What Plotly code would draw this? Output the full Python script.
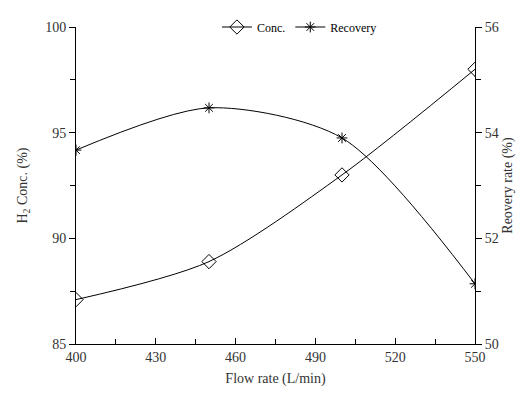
import plotly.graph_objects as go

flow = [400, 450, 500, 550]
conc = [87.1, 88.9, 93.0, 98.0]
recovery = [53.67, 54.47, 53.9, 51.14]
x_ticks = [400, 430, 460, 490, 520, 550]

font = "Liberation Serif, Times New Roman, serif"
fig = go.Figure()
fig.add_trace(go.Scatter(
    x=flow, y=conc, name="Conc.", mode="lines+markers",
    line=dict(color="black", width=1, shape="spline", smoothing=0.8),
    marker=dict(symbol="diamond-open", size=11, color="black", line=dict(width=1)),
))
fig.add_trace(go.Scatter(
    x=flow, y=recovery, name="Recovery", mode="lines+markers", yaxis="y2",
    line=dict(color="black", width=1, shape="spline", smoothing=0.8),
    marker=dict(symbol="asterisk-open", size=9, color="black", line=dict(width=1, color="black")),
))

fig.update_layout(
    width=531, height=406,
    margin=dict(l=76, r=56, t=19, b=62),
    paper_bgcolor="white", plot_bgcolor="white",
    font=dict(family=font, color="#333", size=14),
    showlegend=True,
    legend=dict(orientation="h", x=0.56, xanchor="center", y=1.0, yanchor="middle",
                font=dict(size=12, family=font, color="black"), bgcolor="rgba(0,0,0,0)",
                itemwidth=30, tracegroupgap=0),
    xaxis=dict(range=[400, 550], tickvals=x_ticks, ticks="inside", ticklen=6,
               minor=dict(dtick=15, tick0=400, ticks="inside", ticklen=5, tickcolor="black"),
               showline=True, linecolor="black", linewidth=1, tickcolor="black",
               showgrid=False, zeroline=False,
               title=dict(text="Flow rate (L/min)", font=dict(size=14, family=font), standoff=9),
               tickfont=dict(size=14, family=font)),
    yaxis=dict(range=[85, 100], dtick=5, ticks="outside", ticklen=6,
               minor=dict(dtick=2.5, ticks="outside", ticklen=5, tickcolor="black"),
               showline=True, linecolor="black", linewidth=1, tickcolor="black",
               showgrid=False, zeroline=False,
               title=dict(text="H<sub>2</sub> Conc. (%)", font=dict(size=14, family=font), standoff=14),
               tickfont=dict(size=14, family=font)),
    yaxis2=dict(range=[50, 56], dtick=2, overlaying="y", side="right", ticks="outside", ticklen=6,
                minor=dict(dtick=1, ticks="outside", ticklen=5, tickcolor="black"),
                showline=True, linecolor="black", linewidth=1, tickcolor="black",
                showgrid=False, zeroline=False,
                title=dict(text="Reovery rate (%)", font=dict(size=14, family=font), standoff=4),
                tickfont=dict(size=14, family=font)),
)
fig.write_html("out.html")
